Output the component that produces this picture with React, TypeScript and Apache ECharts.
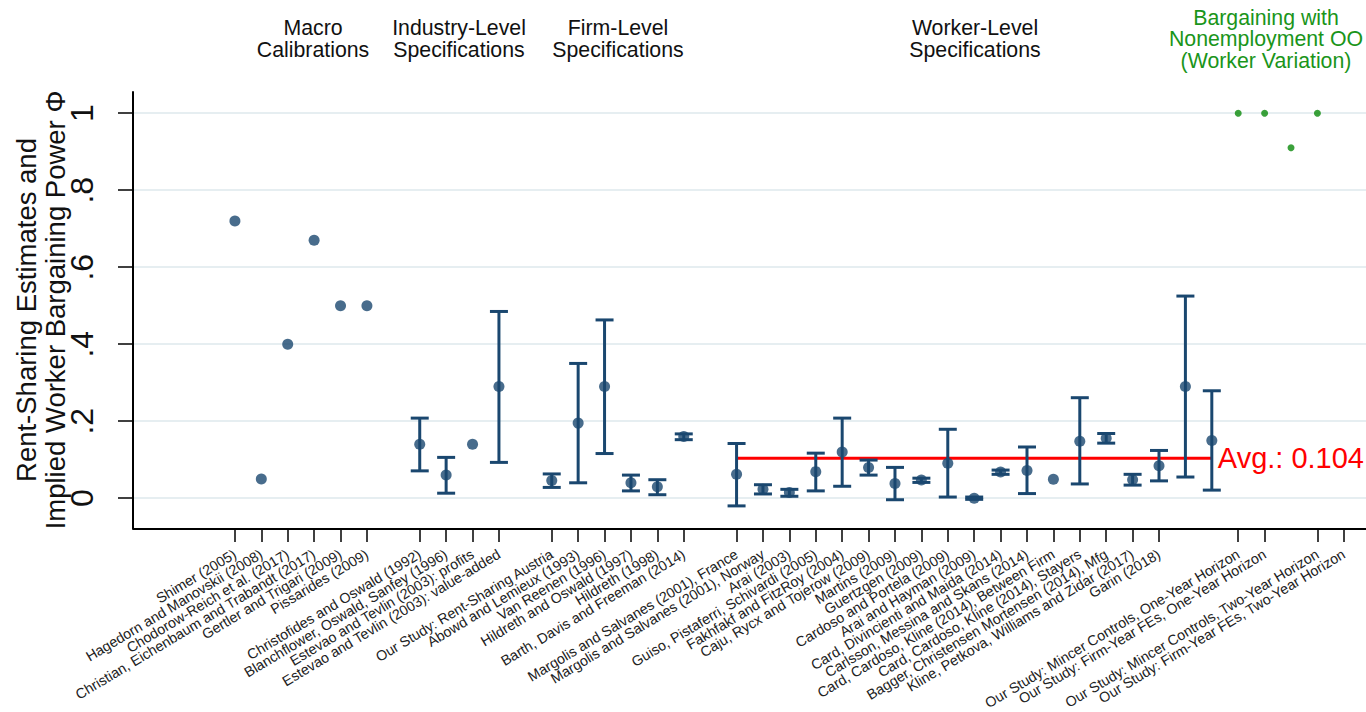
import React, { useEffect, useRef } from "react";
import * as echarts from "echarts";

// ---------- DATA ----------
const categories: string[] = [
  "Shimer (2005)",
  "Hagedorn and Manovskii (2008)",
  "Chodorow-Reich et al. (2017)",
  "Christian, Eichenbaum and Trabandt (2017)",
  "Gertler and Trigari (2009)",
  "Pissarides (2009)",
  "",
  "Christofides and Oswald (1992)",
  "Blanchflower, Oswald, Sanfey (1996)",
  "Estevao and Tevlin (2003): profits",
  "Estevao and Tevlin (2003): value-added",
  "",
  "Our Study: Rent-Sharing Austria",
  "Abowd and Lemieux (1993)",
  "Van Reenen (1996)",
  "Hildreth and Oswald (1997)",
  "Hildreth (1998)",
  "Barth, Davis and Freeman (2014)",
  "",
  "Margolis and Salvanes (2001), France",
  "Margolis and Salvanes (2001), Norway",
  "Arai (2003)",
  "Guiso, Pistaferri, Schivardi (2005)",
  "Fakhfakf and FitzRoy (2004)",
  "Caju, Rycx and Tojerow (2009)",
  "Martins (2009)",
  "Guertzgen (2009)",
  "Cardoso and Portela (2009)",
  "Arai and Hayman (2009)",
  "Card, Divincienti and Maida (2014)",
  "Carlsson, Messina and Skans (2014)",
  "Card, Cardoso, Kline (2014), Between Firm",
  "Card, Cardoso, Kline (2014), Stayers",
  "Bagger, Christensen Mortensen (2014), Mfg",
  "Kline, Petkova, Williams and Zidar (2017)",
  "Garin (2018)",
  "",
  "",
  "Our Study: Mincer Controls, One-Year Horizon",
  "Our Study: Firm-Year FEs, One-Year Horizon",
  "",
  "Our Study: Mincer Controls, Two-Year Horizon",
  "Our Study: Firm-Year FEs, Two-Year Horizon",
];

const estimates: (number | null)[] = [
  0.72, 0.05, 0.40, 0.67, 0.50, 0.50, null,
  0.14, 0.06, 0.14, 0.29, null,
  0.046, 0.195, 0.29, 0.04, 0.03, 0.16, null,
  0.062, 0.023, 0.015, 0.069, 0.12, 0.08, 0.038, 0.047, 0.091, 0.0,
  0.068, 0.072, 0.049, 0.148, 0.156, 0.048, 0.084, 0.29, 0.15,
  null, null, null, null, null,
];

const ciLow: (number | null)[] = [
  null, null, null, null, null, null, null,
  0.071, 0.013, null, 0.093, null,
  0.028, 0.04, 0.116, 0.019, 0.009, 0.152, null,
  -0.02, 0.011, 0.005, 0.019, 0.031, 0.06, -0.004, 0.041, 0.003, -0.003,
  0.062, 0.012, null, 0.037, 0.143, 0.034, 0.045, 0.055, 0.021,
  null, null, null, null, null,
];

const ciHigh: (number | null)[] = [
  null, null, null, null, null, null, null,
  0.208, 0.106, null, 0.485, null,
  0.063, 0.35, 0.463, 0.06, 0.048, 0.167, null,
  0.142, 0.035, 0.023, 0.117, 0.208, 0.099, 0.08, 0.052, 0.179, 0.003,
  0.073, 0.133, null, 0.261, 0.168, 0.062, 0.124, 0.525, 0.279,
  null, null, null, null, null,
];

const nonemployment: (number | null)[] = [
  ...new Array(38).fill(null),
  1.0, 1.0, 0.91, 1.0, null,
];

const avgValue = 0.104;
const avgFrom = 19;
const avgTo = 37;

const xMin = -3.86;
const xMax = 42.84;
const yMin = -0.08;
const yMax = 1.055;
const yTicks = [0, 0.2, 0.4, 0.6, 0.8, 1];
const yTickLabels = ["0", ".2", ".4", ".6", ".8", "1"];

const groupHeaders = [
  { text: "Macro\nCalibrations", x: 313, color: "#111111" },
  { text: "Industry-Level\nSpecifications", x: 459, color: "#111111" },
  { text: "Firm-Level\nSpecifications", x: 618, color: "#111111" },
  { text: "Worker-Level\nSpecifications", x: 975, color: "#111111" },
  { text: "Bargaining with\nNonemployment OO\n(Worker Variation)", x: 1266, color: "#1a951a" },
];

const yTitle = "Rent-Sharing Estimates and\nImplied Worker Bargaining Power \u03A6";

// ---------- STYLE ----------
const NAVY = "#1a476f";
const GREEN = "#0a8a0a";
const FONT = "'Liberation Sans', Arial, Helvetica, sans-serif";

const PLOT_LEFT = 133;
const PLOT_RIGHT = 1366;
const PLOT_TOP = 92;
const PLOT_BOTTOM = 529;

export default function App() {
  const ref = useRef<HTMLDivElement>(null);

  useEffect(() => {
    if (!ref.current) return;
    const chart = echarts.init(ref.current, undefined, { renderer: "svg" });

    // pixel per x unit of the data axis, used to align the label (category) axis grid
    const unit = (PLOT_RIGHT - PLOT_LEFT) / (xMax - xMin);
    const catLeft = PLOT_LEFT + (0 - xMin) * unit;
    const catRight = PLOT_LEFT + (categories.length - 1 - xMin) * unit;

    const dots = estimates
      .map((v, i) => (v === null ? null : [i, v]))
      .filter((d) => d !== null);

    const bars = ciLow
      .map((lo, i) =>
        lo === null || ciHigh[i] === null ? null : [i, lo, ciHigh[i]]
      )
      .filter((d) => d !== null);

    const greens = nonemployment
      .map((v, i) => (v === null ? null : [i, v]))
      .filter((d) => d !== null);

    const option: any = {
      animation: false,
      backgroundColor: "#ffffff",
      textStyle: { fontFamily: FONT },
      grid: [
        { left: PLOT_LEFT, right: 1366 - PLOT_RIGHT, top: PLOT_TOP, bottom: 712 - PLOT_BOTTOM, containLabel: false },
        { left: catLeft, right: 1366 - catRight, top: PLOT_TOP, bottom: 712 - PLOT_BOTTOM, containLabel: false },
      ],
      xAxis: [
        {
          type: "value",
          gridIndex: 0,
          min: xMin,
          max: xMax,
          axisLine: { show: false, onZero: false },
          axisTick: { show: false },
          axisLabel: { show: false },
          splitLine: { show: false },
        },
        {
          type: "category",
          gridIndex: 1,
          data: categories,
          boundaryGap: false,
          position: "bottom",
          axisLine: { show: false, onZero: false },
          axisTick: {
            show: true,
            interval: (index: number, value: string) => value !== "",
            length: 13,
            lineStyle: { color: "#000", width: 1.5 },
          },
          axisLabel: {
            show: true,
            interval: 0,
            rotate: 31,
            margin: 24,
            fontSize: 14.3,
            color: "#222",
            fontFamily: FONT,
          },
          splitLine: { show: false },
        },
      ],
      yAxis: [
        {
          type: "value",
          gridIndex: 0,
          min: yMin,
          max: yMax,
          axisLine: { show: true, onZero: false, lineStyle: { color: "#000", width: 2 } },
          axisTick: {
            show: true,
            customValues: yTicks,
            length: 15,
            lineStyle: { color: "#000", width: 1.5 },
          },
          axisLabel: {
            show: true,
            customValues: yTicks,
            rotate: 90,
            margin: 35,
            fontSize: 32,
            color: "#111",
            fontFamily: FONT,
            formatter: (v: number) => {
              const k = yTicks.findIndex((t) => Math.abs(t - v) < 1e-6);
              return k >= 0 ? yTickLabels[k] : "";
            },
          },
          splitLine: { show: true, lineStyle: { color: "#e6eef1", width: 2 } },
        },
        {
          type: "value",
          gridIndex: 1,
          min: yMin,
          max: yMax,
          show: false,
          axisLine: { onZero: false },
          splitLine: { show: false },
        },
      ],
      graphic: [
        ...groupHeaders.map((h) => ({
          type: "text",
          x: h.x,
          y: 39,
          style: {
            text: h.text,
            fill: h.color,
            fontSize: 21.3,
            fontFamily: FONT,
            lineHeight: 21.5,
            align: "center",
            verticalAlign: "middle",
          },
        })),
        {
          type: "text",
          x: 41,
          y: 310,
          rotation: Math.PI / 2,
          style: {
            text: yTitle,
            fill: "#111",
            fontSize: 27.5,
            fontFamily: FONT,
            lineHeight: 29,
            align: "center",
            verticalAlign: "middle",
          },
        },
      ],
      series: [
        {
          type: "line",
          xAxisIndex: 0,
          yAxisIndex: 0,
          data: [
            [avgFrom, avgValue],
            [avgTo, avgValue],
          ],
          symbol: "none",
          lineStyle: { color: "#ff0000", width: 3 },
          z: 1,
          endLabel: {
            show: true,
            formatter: () => `Avg.: ${avgValue.toFixed(3)}`,
            color: "#ff0000",
            fontSize: 29,
            fontFamily: FONT,
            distance: 6,
          },
          markLine: {
            silent: true,
            symbol: "none",
            label: { show: false },
            lineStyle: { color: "#000", width: 2, type: "solid" },
            data: [
              [
                { coord: [xMin, yMin] },
                { coord: [xMax, yMin] },
              ],
            ],
          },
        },
        {
          type: "custom",
          xAxisIndex: 0,
          yAxisIndex: 0,
          data: bars,
          z: 2,
          encode: { x: 0, y: [1, 2] },
          renderItem: (params: any, api: any) => {
            const x = api.value(0);
            const lo = api.coord([x, api.value(1)]);
            const hi = api.coord([x, api.value(2)]);
            const w = 9;
            const style = { stroke: NAVY, lineWidth: 3 };
            return {
              type: "group",
              children: [
                { type: "line", shape: { x1: lo[0], y1: lo[1], x2: hi[0], y2: hi[1] }, style },
                { type: "line", shape: { x1: lo[0] - w, y1: lo[1], x2: lo[0] + w, y2: lo[1] }, style },
                { type: "line", shape: { x1: hi[0] - w, y1: hi[1], x2: hi[0] + w, y2: hi[1] }, style },
              ],
            };
          },
        },
        {
          type: "scatter",
          xAxisIndex: 0,
          yAxisIndex: 0,
          data: dots,
          symbol: "circle",
          symbolSize: 11,
          itemStyle: { color: NAVY },
          z: 3,
        },
        {
          type: "scatter",
          xAxisIndex: 0,
          yAxisIndex: 0,
          data: greens,
          symbol: "circle",
          symbolSize: 7,
          itemStyle: { color: GREEN },
          z: 3,
        },
      ],
    };

    chart.setOption(option);
    return () => chart.dispose();
  }, []);

  return (
    <div
      ref={ref}
      style={{ position: "fixed", left: 0, top: 0, width: 1366, height: 712, background: "#fff" }}
    />
  );
}
